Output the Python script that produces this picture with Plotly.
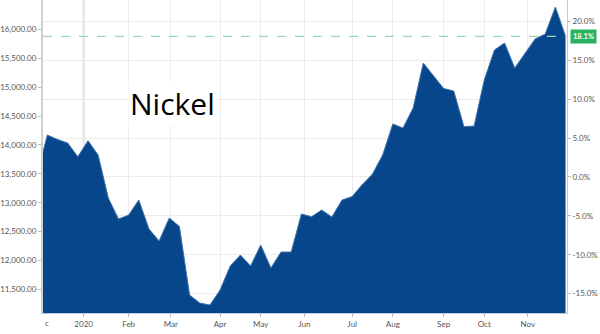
import plotly.graph_objects as go

dates = ["2019-12-04", "2019-12-07", "2019-12-14", "2019-12-21", "2019-12-28",
         "2020-01-04", "2020-01-11", "2020-01-18", "2020-01-25", "2020-02-01",
         "2020-02-08", "2020-02-15", "2020-02-22", "2020-02-29", "2020-03-07",
         "2020-03-14", "2020-03-21", "2020-03-28", "2020-04-04", "2020-04-11",
         "2020-04-18", "2020-04-25", "2020-05-02", "2020-05-09", "2020-05-16",
         "2020-05-23", "2020-05-30", "2020-06-06", "2020-06-13", "2020-06-20",
         "2020-06-27", "2020-07-04", "2020-07-11", "2020-07-18", "2020-07-25",
         "2020-08-01", "2020-08-08", "2020-08-15", "2020-08-22", "2020-08-29",
         "2020-09-05", "2020-09-12", "2020-09-19", "2020-09-26", "2020-10-03",
         "2020-10-10", "2020-10-17", "2020-10-24", "2020-10-31", "2020-11-07",
         "2020-11-14", "2020-11-21", "2020-11-28"]
prices = [13882, 14171, 14094, 14033, 13796,
          14073, 13825, 13081, 12718, 12787,
          13047, 12545, 12338, 12735, 12588,
          11403, 11265, 11230, 11490, 11905,
          12095, 11905, 12268, 11870, 12147,
          12147, 12805, 12758, 12874, 12753,
          13047, 13107, 13315, 13497, 13825,
          14362, 14292, 14638, 15417, 15192,
          14976, 14933, 14315, 14327, 15123,
          15642, 15763, 15330, 15573, 15832,
          15919, 16386, 15879]

base_price = 13445  # 0% reference level
y_range = [11092, 16507]
x_range = ["2019-12-04", "2020-11-29"]

left_ticks = [11500, 12000, 12500, 13000, 13500, 14000, 14500, 15000, 15500, 16000]
pct_ticks = [-15, -10, -5, 0, 5, 10, 15, 20]
x_tickvals = ["2020-01-01", "2020-02-01", "2020-03-01", "2020-04-04", "2020-05-02",
              "2020-06-01", "2020-07-04", "2020-08-01", "2020-09-05", "2020-10-03",
              "2020-11-02"]
x_ticktext = ["2020", "Feb", "Mar", "Apr", "May", "Jun", "Jul", "Aug", "Sep", "Oct", "Nov"]

last_price = prices[-1]
last_pct = (last_price / base_price - 1) * 100
pct_range = [(y_range[0] / base_price - 1) * 100, (y_range[1] / base_price - 1) * 100]

tick_font = dict(family="Lato, Open Sans, sans-serif", size=8, color="#555555")

fig = go.Figure()
fig.add_trace(go.Scatter(
    x=dates, y=prices, mode="lines", fill="tozeroy",
    fillcolor="#07468a", line=dict(color="#3f74ad", width=1),
    hoverinfo="skip", showlegend=False))
# invisible trace to activate the right axis
fig.add_trace(go.Scatter(x=[dates[-1]], y=[last_pct], yaxis="y2", mode="markers",
                         marker=dict(opacity=0), hoverinfo="skip", showlegend=False))

fig.update_layout(
    width=600, height=334,
    margin=dict(l=43, r=33, t=0, b=21),
    paper_bgcolor="white", plot_bgcolor="white",
    xaxis=dict(type="date", range=x_range, tickmode="array", tickvals=x_tickvals,
               ticktext=x_ticktext, showgrid=True, gridcolor="#ebebeb", gridwidth=1,
               showline=True, linecolor="#b8c8d8", linewidth=1,
               ticks="outside", ticklen=3, tickcolor="#bbbbbb",
               tickfont=tick_font, zeroline=False),
    yaxis=dict(range=y_range, tickmode="array", tickvals=left_ticks,
               tickformat=",.2f", showgrid=False, showline=True,
               linecolor="#d0d0d0", linewidth=2, ticks="outside", ticklen=3,
               tickcolor="#bbbbbb", tickfont=tick_font, zeroline=False),
    yaxis2=dict(range=pct_range, overlaying="y", side="right", tickmode="array",
                tickvals=pct_ticks, ticktext=[f"{v:.1f}%" for v in pct_ticks],
                showgrid=True, gridcolor="#ebebeb", gridwidth=1,
                showline=True, linecolor="#c8c8c8", linewidth=1,
                ticks="outside", ticklen=3, tickcolor="#bbbbbb",
                tickfont=tick_font, zeroline=False),
)

# year boundary line
fig.add_shape(type="line", xref="x", yref="paper", x0="2020-01-01", x1="2020-01-01",
              y0=0, y1=1, line=dict(color="#d8d8d8", width=2), layer="below")

# last-price dashed line
fig.add_shape(type="line", xref="paper", yref="y", x0=0, x1=1,
              y0=last_price, y1=last_price,
              line=dict(color="#9fd6b2", width=1.2, dash="dash"))

# last-price tag
fig.add_annotation(xref="paper", yref="y", x=1.0, y=last_price, xanchor="left",
                   yanchor="middle", text=f"<b>{last_pct:.1f}%</b>", showarrow=False,
                   font=dict(family="Lato, sans-serif", size=7.5, color="white"),
                   bgcolor="#27b35f", borderpad=2, xshift=3)

# clipped "Dec" label
fig.add_annotation(xref="paper", yref="paper", x=0, y=0, xanchor="left", yanchor="top",
                   text="c", showarrow=False, yshift=-3, xshift=0,
                   font=tick_font)

fig.add_annotation(xref="paper", yref="paper", x=0.248, y=0.668, text="Nickel",
                   showarrow=False, xanchor="center", yanchor="middle",
                   font=dict(family="Open Sans, sans-serif", size=30, color="black"),
                   bgcolor="white")

fig.write_html("out.html")
